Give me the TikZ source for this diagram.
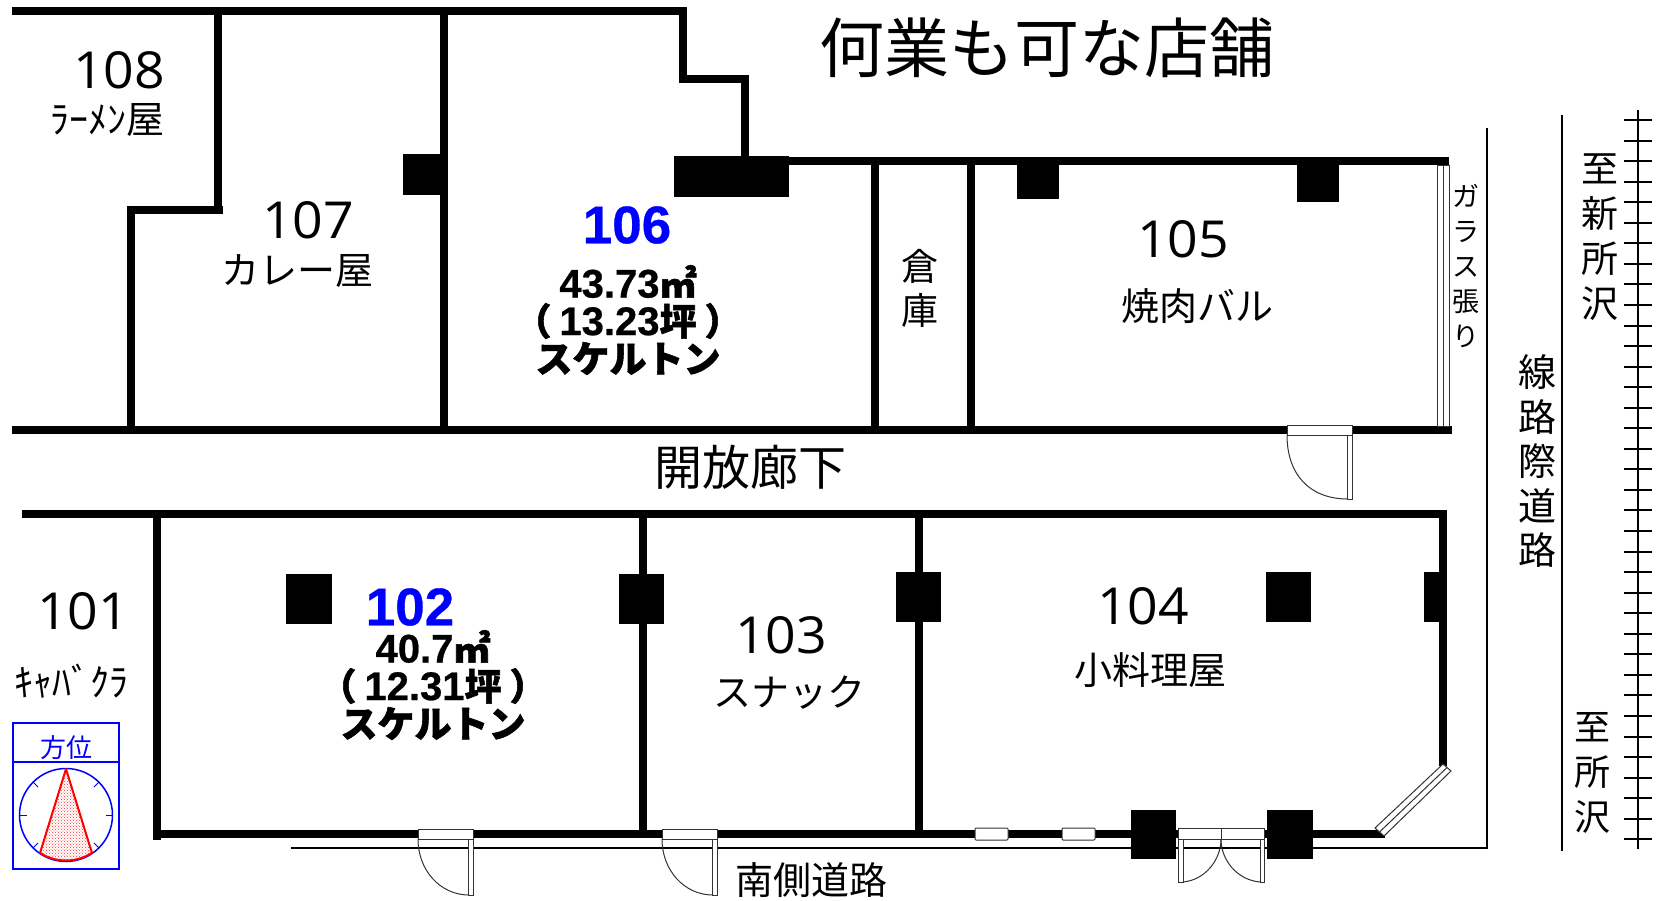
\documentclass[tikz,border=0pt]{standalone}
\usepackage{fontspec}
\setmainfont{Noto Sans CJK JP}[BoldFeatures={FakeBold=1.5}]
\newfontfamily\numfont{Open Sans}[FakeStretch=1.05]
\newfontfamily\bluefont{Liberation Sans}[BoldFeatures={FakeBold=.6}]
\usetikzlibrary{patterns}
\newcommand{\fsz}[2]{\fontsize{#1}{#2}\selectfont}
\newcommand{\dg}[1]{{\bluefont\fsz{40}{40}#1}}
\tikzstyle{wall} = [line width=8pt,black]
\tikzstyle{col} = [fill=black]
\tikzstyle{thin} = [line width=1pt,black!80]
\tikzstyle{road} = [line width=2pt,black]
\tikzstyle{roomno} = [font=\numfont\fsz{51}{51},inner sep=0pt]
\tikzstyle{blueno} = [font=\bluefont\bfseries\fsz{53}{53},text=blue,inner sep=0pt]
\tikzstyle{shop} = [font=\fsz{38}{38},inner sep=0pt]
\tikzstyle{area} = [font=\bfseries\fsz{37}{37.5},inner sep=0pt,align=center]
\tikzstyle{tate} = [inner sep=0pt,align=center]
% door: hinge side x, free side x, leaf length
\newcommand{\doorA}[4]{
  \draw[thin,fill=white](#1,#3)rectangle(#2,#3+10);
  \draw[thin,fill=white](#2-5,#3+10)rectangle(#2,#4);
  \draw[thin](#1,#3+10)..controls(#1,#4-25)and(#1+22,#4)..(#2-4,#4);
}
\newcommand{\winA}[2]{\draw[thin,fill=white,rounded corners=1pt](#1,828)rectangle(#2,840);}
\begin{document}
\begin{tikzpicture}[x=1pt,y=-1pt]
      \useasboundingbox(0,0)rectangle(1680,900);
      % roads and rail
      \draw[road](291,848)--(1487,848)--(1487,128);
      \draw[road](1562,115)--(1562,851);
      \draw[road](1638,110)--(1638,849);
      \foreach \t in {0,...,35}
        \draw[road]({1624},{120+20.55*\t})--({1652},{120+20.55*\t});
      % upper walls
      \draw[wall](12,11)--(683,11)--(683,79)--(745,79)--(745,165);
      \draw[wall](218,11)--(218,214);
      \draw[wall](223,210)--(131,210)--(131,434);
      \draw[wall](444,11)--(444,434);
      \draw[wall](745,161)--(1449,161);
      \draw[wall](12,430)--(1452,430);
      \draw[wall](875,161)--(875,434);
      \draw[wall](971,161)--(971,434);
      \fill[col](403,154)rectangle(444,195);
      \fill[col](674,156)rectangle(789,197);
      \fill[col](1017,161)rectangle(1059,199);
      \fill[col](1297,161)rectangle(1339,202);
      \draw[thin,fill=white](1437,165)rectangle(1449,426);
      \draw[thin](1443,165)--(1443,426);
      % lower walls
      \draw[wall](22,514)--(1447,514);
      \draw[wall](1443,510)--(1443,766);
      \draw[wall](157,514)--(157,840);
      \draw[wall](153,834)--(1385,834);
      \draw[wall](643,514)--(643,838);
      \draw[wall](919,514)--(919,838);
      \fill[col](286,574)rectangle(332,624);
      \fill[col](619,574)rectangle(664,624);
      \fill[col](896,572)rectangle(941,622);
      \fill[col](1266,572)rectangle(1311,622);
      \fill[col](1424,572)rectangle(1447,622);
      \fill[col](1131,810)rectangle(1176,859);
      \fill[col](1267,810)rectangle(1313,859);
      \winA{975}{1008}
      \winA{1062}{1095}
      \draw[thin,fill=white](1375,828)--(1384,836)--(1451,771)--(1443,764)--cycle;
      \draw[thin](1379.5,832)--(1447,767.5);
      % doors
      \doorA{1287}{1352}{425}{499}
      \doorA{418}{473}{829}{895}
      \doorA{662}{717}{829}{895}
      \draw[thin,fill=white](1178,828)rectangle(1264,839);
      \draw[thin](1221,828)--(1221,839);
      \draw[thin,fill=white](1178,839)rectangle(1183,882);
      \draw[thin,fill=white](1260,839)rectangle(1264,882);
      \draw[thin](1221,839)..controls(1221,860)and(1205,880)..(1183,882);
      \draw[thin](1221,839)..controls(1221,860)and(1237,880)..(1260,882);
      % compass
      \draw[line width=1.5pt,blue,fill=white](13,723)rectangle(119,869);
      \draw[line width=1.5pt,blue](13,762)--(119,762);
      \draw[line width=1.5pt,blue](66,815)circle(46.5);
      \foreach \a in {0,45,135,180,225,315}
        \draw[line width=.8pt,blue](66,815)++(\a:46.5)--++(\a:-7);
      \fill[pattern=crosshatch dots,pattern color=red!80](66,769)--(40,853)..controls(56,863)and(76,863)..(92,853)--cycle;
      \draw[line width=2pt,red,line join=round](66,769)--(40,853)..controls(56,863)and(76,863)..(92,853)--cycle;
      \node[font=\fsz{26}{26},text=blue,inner sep=0pt](nHoui)at(66,748){方位};
      % texts
      \node[font=\fsz{65}{65},inner sep=0pt](nTitle)at(1047,48){何業も可な店舗};
      \node[roomno](n108)at(119,70){108};
      \node[font=\fsz{38}{38},inner sep=0pt](s108)at(107,120){ﾗｰﾒﾝ屋};
      \node[roomno](n107)at(308,220){107};
      \node[shop](s107)at(297,271){カレー屋};
      \node[blueno](n106)at(627,225){106};
      \node[area](a106)at(628,320){\dg{43.73}㎡\\（\kern8pt\dg{13.23}坪\kern8pt）\\スケルトン};
      \node[roomno](n105)at(1183,239){105};
      \node[shop](s105)at(1197,306){焼肉バル};
      \node[tate,font=\fsz{37}{44}](nSouko)at(920,288){倉\\庫};
      \node[tate,font=\fsz{27}{35}](nGlass)at(1466,266){ガ\\ラ\\ス\\張\\り};
      \node[tate,font=\fsz{37}{45}](nShin)at(1600,237){至\\新\\所\\沢};
      \node[tate,font=\fsz{38}{44.5}](nSenro)at(1537,461){線\\路\\際\\道\\路};
      \node[tate,font=\fsz{36}{45}](nTokoro)at(1592,773){至\\所\\沢};
      \node[font=\fsz{48}{48},inner sep=0pt](nRouka)at(750,467){開放廊下};
      \node[roomno](n101)at(83,611){101};
      \node[font=\fsz{38}{38},inner sep=0pt](s101)at(71,681){ｷｬﾊﾞｸﾗ};
      \node[blueno](n102)at(410,607){102};
      \node[area](a102)at(433,685){\dg{40.7}㎡\\（\kern8pt\dg{12.31}坪\kern8pt）\\スケルトン};
      \node[roomno](n103)at(781,635){103};
      \node[shop](s103)at(789,693){スナック};
      \node[roomno](n104)at(1143,606){104};
      \node[shop](s104)at(1150,670){小料理屋};
      \node[shop](nMinami)at(811,880){南側道路};
\end{tikzpicture}
\end{document}
